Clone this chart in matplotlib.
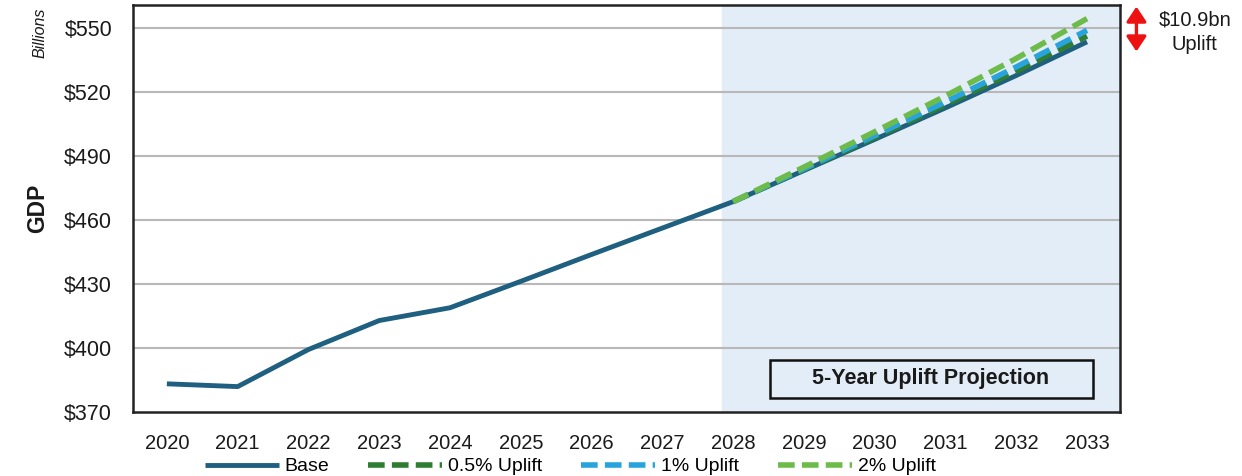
import matplotlib
matplotlib.use("Agg")
import matplotlib.pyplot as plt
from matplotlib.patches import FancyArrowPatch, Rectangle

plt.rcParams['font.family'] = ['Liberation Sans', 'DejaVu Sans']

years = [2020, 2021, 2022, 2023, 2024, 2025, 2026, 2027, 2028, 2029, 2030, 2031, 2032, 2033]
base = [383.1, 381.8, 399.2, 412.8, 418.8, 431.2, 443.8, 456.2, 468.6, 483.2, 497.8, 512.6, 527.8, 543.6]
proj_years = [2028, 2029, 2030, 2031, 2032, 2033]
uplift_05 = [468.6, 483.6, 498.7, 514.0, 529.8, 546.3]
uplift_1 = [468.6, 484.0, 499.6, 515.4, 531.8, 549.0]
uplift_2 = [468.6, 484.8, 501.4, 518.2, 535.8, 554.5]
yticks = [370, 400, 430, 460, 490, 520, 550]

fig = plt.figure(figsize=(12.42, 4.76), dpi=100)
ax = fig.add_axes([0.107, 0.135, 0.795, 0.855])

ax.axvspan(2027.85, 2033.5, color="#e3edf7", zorder=0)
for y in yticks[1:]:
    ax.axhline(y, color="#b8b8b8", lw=1.5, zorder=1)

ax.plot(years, base, color="#1f5f80", lw=3.5, solid_capstyle="butt", label="Base", zorder=3)
ax.plot(proj_years, uplift_05, color="#2e7d32", lw=4, dashes=(3, 1.3), label="0.5% Uplift", zorder=4)
ax.plot(proj_years, uplift_1, color="#29a3dc", lw=4, dashes=(3, 1.3), label="1% Uplift", zorder=5)
ax.plot(proj_years, uplift_2, color="#6dbb4a", lw=4, dashes=(3, 1.3), label="2% Uplift", zorder=6)

ax.set_xlim(2019.52, 2033.47)
ax.set_ylim(370, 561)
ax.set_xticks(years)
ax.set_yticks(yticks)
ax.set_yticklabels([f"${v}" for v in yticks])
ax.tick_params(axis="both", length=0, colors="#1a1a1a")
ax.tick_params(axis="x", pad=16, labelsize=14.5)
ax.tick_params(axis="y", pad=15, labelsize=15.5)
for s in ax.spines.values():
    s.set_color("#222222")
    s.set_linewidth(1.8)

ax.set_ylabel("GDP", fontsize=16.5, fontweight="bold", color="#1a1a1a", labelpad=11)
fig.text(0.032, 0.932, "Billions", rotation=90, style="italic", fontsize=11.5,
         ha="center", va="center", color="#1a1a1a")

# projection label box
ax.add_patch(Rectangle((0.645, 0.034), 0.327, 0.094, transform=ax.transAxes,
                       fc="#e3edf7", ec="#111111", lw=1.8, zorder=7))
ax.text(0.808, 0.081, "5-Year Uplift Projection", transform=ax.transAxes,
        ha="center", va="center", fontsize=15.5, fontweight="bold", color="#1a1a1a",
        zorder=8)

arrow = FancyArrowPatch((0.915, 0.992), (0.915, 0.886), transform=fig.transFigure,
                        arrowstyle="<|-|>,head_length=9,head_width=6", color="#ee1111",
                        lw=2.4, mutation_scale=1)
fig.patches.append(arrow)
fig.text(0.962, 0.932, "$10.9bn\nUplift", ha="center", va="center", fontsize=14.5,
         color="#1a1a1a", linespacing=1.4)

ax.legend(loc="upper center", bbox_to_anchor=(0.443, -0.113), ncol=4, frameon=False,
          fontsize=14, handlelength=3.8, handletextpad=0.3, columnspacing=2.0,
          borderaxespad=0, borderpad=0)

fig.savefig("out.png", dpi=100)
